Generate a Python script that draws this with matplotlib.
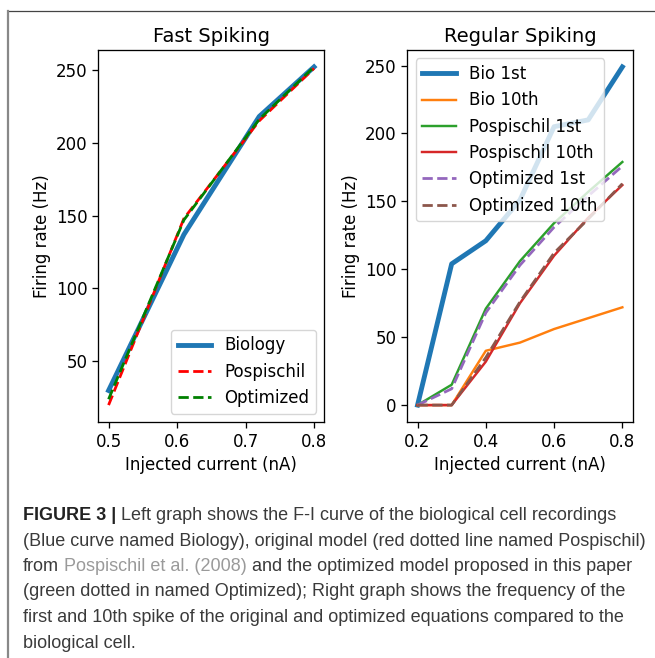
import matplotlib
matplotlib.use('Agg')
import matplotlib.pyplot as plt
from matplotlib.lines import Line2D

# Fast spiking cell: F-I curve
fs_current = [0.5, 0.61, 0.72, 0.8]
fs_biology = [30, 137, 218, 252]
fs_pospischil = [20, 148, 215, 251]
fs_optimized = [24, 147, 216, 252]

# Regular spiking cell: 1st and 10th spike frequency
rs_current = [0.2, 0.3, 0.4, 0.5, 0.6, 0.7, 0.8]
rs_bio_1st = [0, 104, 121, 151, 205, 210, 249]
rs_bio_10th = [0, 0, 40, 46, 56, 64, 72]
rs_posp_1st = [0, 15, 71, 106, 134, 157, 179]
rs_posp_10th = [0, 0, 32, 75, 110, 138, 162]
rs_opt_1st = [0, 12, 68, 103, 131, 154, 176]
rs_opt_10th = [0, 0, 35, 76, 112, 137, 163]

caption_lines = [
    [("FIGURE 3 |", "bold", "#222222"),
     ("Left graph shows the F-I curve of the biological cell recordings", "normal", "#3a3a3a")],
    [("(Blue curve named Biology), original model (red dotted line named Pospischil)", "normal", "#3a3a3a")],
    [("from", "normal", "#3a3a3a"),
     ("Pospischil et al. (2008)", "normal", "#9a9a9a"),
     ("and the optimized model proposed in this paper", "normal", "#3a3a3a")],
    [("(green dotted in named Optimized); Right graph shows the frequency of the", "normal", "#3a3a3a")],
    [("first and 10th spike of the original and optimized equations compared to the", "normal", "#3a3a3a")],
    [("biological cell.", "normal", "#3a3a3a")],
]

plt.rcParams['font.size'] = 12
plt.rcParams['axes.linewidth'] = 0.94
plt.rcParams['xtick.major.size'] = 4.1
plt.rcParams['ytick.major.size'] = 4.1
plt.rcParams['xtick.major.width'] = 0.94
plt.rcParams['ytick.major.width'] = 0.94

W, H = 655, 658
fig = plt.figure(figsize=(W / 100, H / 100), dpi=100)

# left panel
ax1 = fig.add_axes([98.3 / W, (H - 422) / H, 226 / W, 372 / H])
ax1.plot(fs_current, fs_biology, color='C0', lw=3.5, label='Biology')
ax1.plot(fs_current, fs_pospischil, 'r--', lw=2, label='Pospischil')
ax1.plot(fs_current, fs_optimized, 'g--', lw=2, label='Optimized')
ax1.set_title('Fast Spiking', fontsize=14)
ax1.set_xlabel('Injected current (nA)')
ax1.set_ylabel('Firing rate (Hz)')
ax1.set_xticks([0.5, 0.6, 0.7, 0.8])
ax1.set_yticks([50, 100, 150, 200, 250])
ax1.legend(loc='lower right')

# right panel
ax2 = fig.add_axes([407.3 / W, (H - 422) / H, 225.3 / W, 372 / H])
ax2.plot(rs_current, rs_bio_1st, color='C0', lw=3.5, label='Bio 1st')
ax2.plot(rs_current, rs_bio_10th, color='C1', lw=1.75, label='Bio 10th')
ax2.plot(rs_current, rs_posp_1st, color='C2', lw=1.75, label='Pospischil 1st')
ax2.plot(rs_current, rs_posp_10th, color='C3', lw=1.75, label='Pospischil 10th')
ax2.plot(rs_current, rs_opt_1st, '--', color='C4', lw=2, label='Optimized 1st')
ax2.plot(rs_current, rs_opt_10th, '--', color='C5', lw=2, label='Optimized 10th')
ax2.set_title('Regular Spiking', fontsize=14)
ax2.set_xlabel('Injected current (nA)')
ax2.set_ylabel('Firing rate (Hz)')
ax2.set_xticks([0.2, 0.4, 0.6, 0.8])
ax2.legend(loc='upper left')

# page frame
fig.add_artist(Line2D([7.5 / W, 1], [1 - 10.5 / H, 1 - 10.5 / H], transform=fig.transFigure,
                      color='#444444', lw=0.9))
fig.add_artist(Line2D([7.5 / W, 7.5 / W], [0, 1 - 10.5 / H], transform=fig.transFigure,
                      color='#888888', lw=1.6))

# caption
cap = fig.add_axes([0, 0, 1, 1])
cap.axis('off')
cap.set_xlim(0, W)
cap.set_ylim(H, 0)
cap_size = 13
for i, line in enumerate(caption_lines):
    y = 520 + i * 25.5
    prev = None
    for txt, weight, col in line:
        if prev is None:
            prev = cap.text(23, y, txt, fontsize=cap_size, fontweight=weight, color=col,
                            family='Liberation Sans', va='baseline')
        else:
            prev = cap.annotate(txt, xy=(1, 0), xycoords=prev, xytext=(3.6, 0),
                                textcoords='offset points', va='bottom', fontsize=cap_size,
                                fontweight=weight, color=col, family='Liberation Sans',
                                annotation_clip=False)

fig.savefig('out.png', dpi=100)
